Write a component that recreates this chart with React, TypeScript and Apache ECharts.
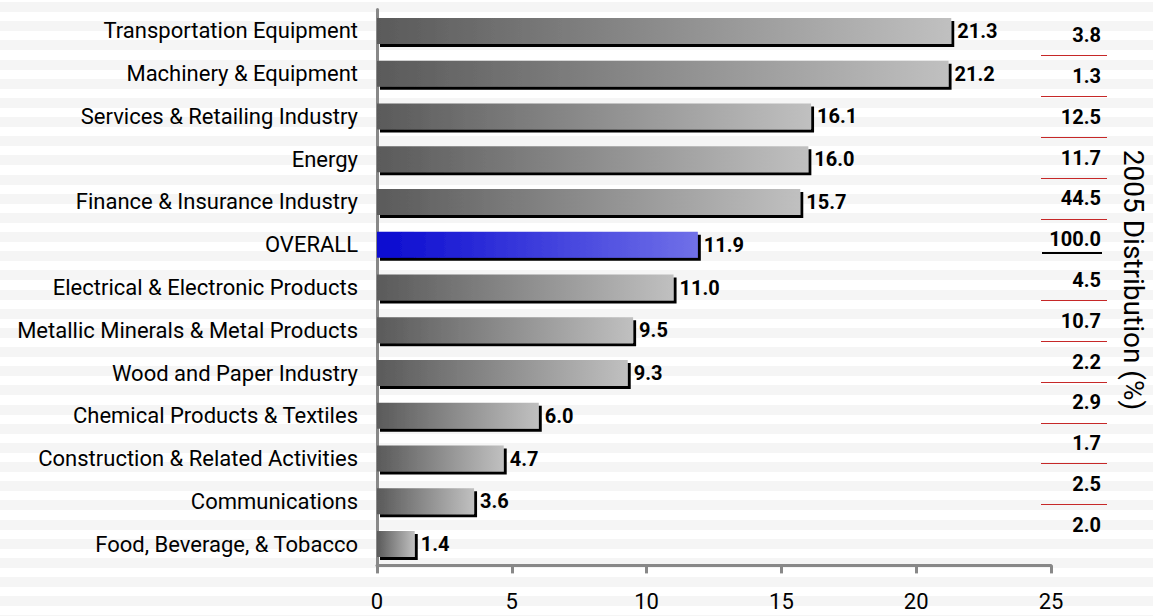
import React, { useEffect, useRef } from "react";
import * as echarts from "echarts";

const categories: string[] = [
  "Transportation Equipment",
  "Machinery & Equipment",
  "Services & Retailing Industry",
  "Energy",
  "Finance & Insurance Industry",
  "OVERALL",
  "Electrical & Electronic Products",
  "Metallic Minerals & Metal Products",
  "Wood and Paper Industry",
  "Chemical Products & Textiles",
  "Construction & Related Activities",
  "Communications",
  "Food, Beverage, & Tobacco",
];

const growthValues: number[] = [21.3, 21.2, 16.1, 16.0, 15.7, 11.9, 11.0, 9.5, 9.3, 6.0, 4.7, 3.6, 1.4];

const distribution2005: number[] = [3.8, 1.3, 12.5, 11.7, 44.5, 100.0, 4.5, 10.7, 2.2, 2.9, 1.7, 2.5, 2.0];

const xTicks = { min: 0, max: 25, interval: 5 };

const highlightCategory = "OVERALL";

const FONT = "Roboto, 'Liberation Sans', sans-serif";

const grayGradient = {
  type: "linear",
  x: 0,
  y: 0,
  x2: 1,
  y2: 0,
  colorStops: [
    { offset: 0, color: "#5a5a5a" },
    { offset: 1, color: "#c0c0c0" },
  ],
};

const blueGradient = {
  type: "linear",
  x: 0,
  y: 0,
  x2: 1,
  y2: 0,
  colorStops: [
    { offset: 0, color: "#0a0ad0" },
    { offset: 1, color: "#7070e8" },
  ],
};

const RED = "#c62828";
const totalIndex = categories.indexOf(highlightCategory);

export default function App() {
  const ref = useRef<HTMLDivElement>(null);

  useEffect(() => {
    document.body.style.margin = "0";
    if (!ref.current) return;
    const chart = echarts.init(ref.current, undefined, { renderer: "svg" });

    const barData = growthValues.map((v, i) => ({
      value: v,
      itemStyle: {
        color: categories[i] === highlightCategory ? blueGradient : grayGradient,
      },
    }));

    const option: any = {
      animation: false,
      backgroundColor: "transparent",
      textStyle: { fontFamily: FONT },
      grid: [
        { left: 377, right: 102, top: 9.6, bottom: 50.6, containLabel: false },
        { left: 1041, width: 66, top: 14.6, height: 530.8, containLabel: false },
      ],
      xAxis: [
        {
          type: "value",
          gridIndex: 0,
          min: xTicks.min,
          max: xTicks.max,
          interval: xTicks.interval,
          axisLine: { show: true, lineStyle: { color: "#888888", width: 3 } },
          axisTick: { show: true, length: 8, lineStyle: { color: "#888888", width: 3 } },
          splitLine: { show: false },
          axisLabel: { fontSize: 22, color: "#000", margin: 25, fontFamily: FONT },
        },
        {
          type: "value",
          gridIndex: 1,
          min: 0,
          max: 1,
          show: false,
        },
      ],
      yAxis: [
        {
          type: "category",
          gridIndex: 0,
          data: categories,
          inverse: true,
          axisLine: { show: true, lineStyle: { color: "#888888", width: 3 } },
          axisTick: { show: false },
          splitLine: { show: false },
          axisLabel: { fontSize: 22, color: "#000", margin: 19, interval: 0, fontFamily: FONT },
        },
        {
          type: "category",
          gridIndex: 1,
          data: categories,
          inverse: true,
          position: "right",
          axisLine: { show: false },
          axisTick: { show: false },
          axisLabel: {
            inside: true,
            interval: 0,
            margin: 6,
            fontSize: 20,
            fontWeight: "bold",
            color: "#000",
            fontFamily: FONT,
            formatter: (_v: string, idx: number) => distribution2005[idx].toFixed(1),
          },
          splitLine: {
            show: true,
            showMaxLine: false,
            interval: (idx: number) => idx >= 1 && idx !== totalIndex + 1,
            lineStyle: { color: RED, width: 1 },
          },
          name: "2005 Distribution (%)",
          nameLocation: "middle",
          nameRotate: -90,
          nameGap: 12,
          nameTextStyle: { fontSize: 28, color: "#000", fontFamily: FONT },
        },
      ],
      series: [
        {
          type: "bar",
          xAxisIndex: 0,
          yAxisIndex: 0,
          data: barData,
          barWidth: 26,
          itemStyle: {
            shadowColor: "#000000",
            shadowOffsetX: 3,
            shadowOffsetY: 3,
            shadowBlur: 0,
          },
          label: {
            show: true,
            position: "right",
            distance: 6,
            fontSize: 20,
            fontWeight: "bold",
            color: "#000",
            fontFamily: FONT,
            formatter: (p: any) => Number(p.value).toFixed(1),
          },
        },
      ],
      graphic: [
        {
          type: "line",
          shape: { x1: 1042, y1: 253, x2: 1102, y2: 253 },
          style: { stroke: "#000", lineWidth: 2 },
        },
      ],
    };

    chart.setOption(option);
    return () => chart.dispose();
  }, []);

  return (
    <div
      ref={ref}
      style={{
        width: 1153,
        height: 616,
        background:
          "repeating-linear-gradient(to bottom, #ffffff 0px, #ffffff 2px, #f5f5f5 2px, #f5f5f5 12px, #ffffff 12px, #ffffff 19.17px)",
      }}
    />
  );
}
